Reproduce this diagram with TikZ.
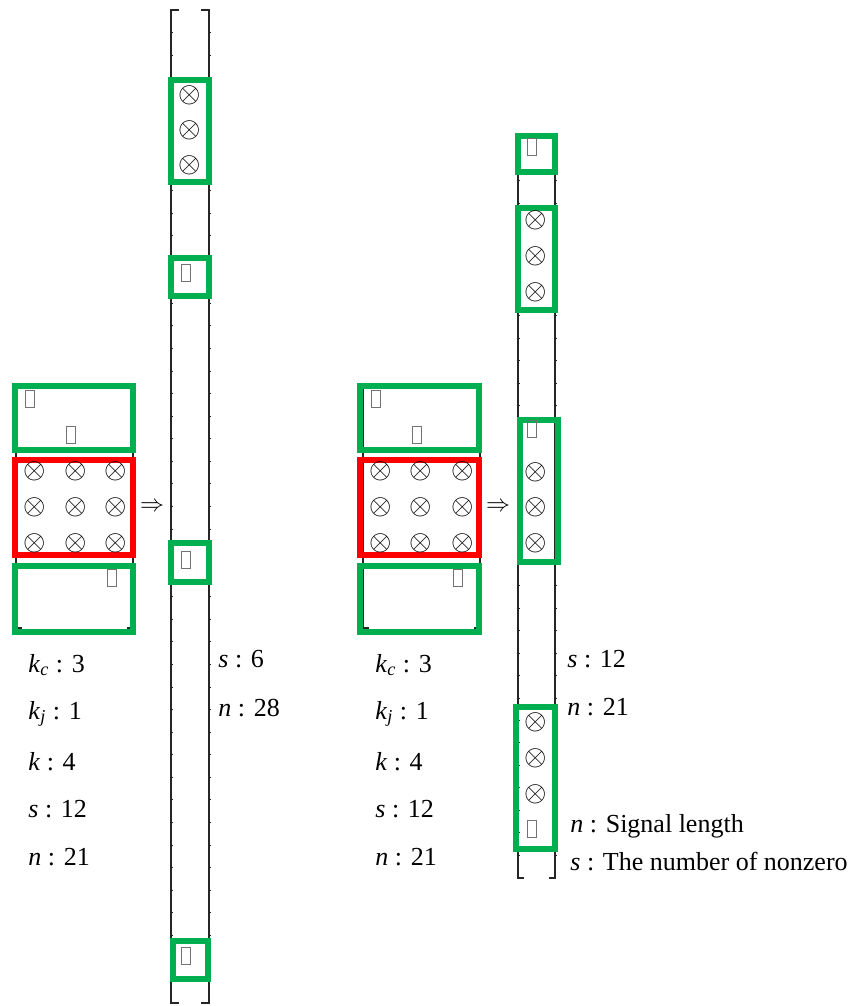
\documentclass[tikz,border=0pt]{standalone}
\usepackage{fontspec}
\setmainfont{Liberation Serif}
\usetikzlibrary{positioning}

\definecolor{boxgreen}{RGB}{0,176,80}
\definecolor{boxred}{RGB}{255,0,0}

\tikzset{
  greenbox/.style={draw=boxgreen,line width=3pt},
  redbox/.style={draw=boxred,line width=3pt},
  vecline/.style={draw=black!85,line width=0.6pt},
  tickmark/.style={draw=black!85,line width=0.5pt},
  tofu/.style={draw=black!55,line width=0.45pt,minimum width=4.5pt,minimum height=8.5pt,inner sep=0pt},
  otimes/.style={inner sep=0pt,font=\fontsize{14}{16}\selectfont},
  implies/.style={inner sep=0pt,font=\fontsize{13}{15}\selectfont},
  lbl/.style={anchor=base west,inner sep=0pt,font=\fontsize{13}{15}\selectfont},
}

\begin{document}
\begin{tikzpicture}[x=0.5pt,y=-0.5pt]
\useasboundingbox (0,0) rectangle (857,1006);

% long vector (n = 28)
\draw[vecline] (179,10) -- (171,10) -- (171,1003) -- (179,1003);
\draw[vecline] (201,10) -- (209,10) -- (209,1003) -- (201,1003);
\foreach \i in {1,...,43} {
  \pgfmathsetmacro{\ty}{10+\i*22.57}
  \draw[tickmark] (169.5,\ty) -- (172.5,\ty);
  \draw[tickmark] (207.5,\ty) -- (210.5,\ty);
}

% short vector (n = 21)
\draw[vecline] (524,136) -- (518,136) -- (518,878) -- (524,878);
\draw[vecline] (549,136) -- (555,136) -- (555,878) -- (549,878);
\foreach \i in {1,...,32} {
  \pgfmathsetmacro{\ty}{136+\i*22.48}
  \draw[tickmark] (516.5,\ty) -- (519.5,\ty);
  \draw[tickmark] (553.5,\ty) -- (556.5,\ty);
}

% matrix outlines
\draw[vecline] (22,388) -- (16,388) -- (16,628) -- (22,628);
\draw[vecline] (127,388) -- (133,388) -- (133,628) -- (127,628);
\draw[vecline] (369,388) -- (363,388) -- (363,628) -- (369,628);
\draw[vecline] (474,388) -- (480,388) -- (480,628) -- (474,628);

% left matrix
\draw[greenbox] (15,386) rectangle (133,450);
\draw[redbox] (15,460) rectangle (133,555);
\draw[greenbox] (15,566) rectangle (133,632);
\node[tofu] (ma1) at (30,399) {};
\node[tofu] (ma2) at (71,435) {};
\node[tofu] (ma3) at (112,578) {};
\foreach \c/\x in {1/35,2/76,3/116}
  \foreach \r/\y in {1/471,2/507,3/543}
    \node[otimes] (ma-\r-\c) at (\x,\y) {$\otimes$};
\node[implies] (arr1) at (152,507) {$\Rightarrow$};

% right matrix
\draw[greenbox] (360,386) rectangle (479,450);
\draw[redbox] (360,460) rectangle (479,555);
\draw[greenbox] (360,566) rectangle (479,632);
\node[tofu] (mb1) at (376,399) {};
\node[tofu] (mb2) at (417,435) {};
\node[tofu] (mb3) at (458,578) {};
\foreach \c/\x in {1/381,2/421,3/463}
  \foreach \r/\y in {1/471,2/507,3/543}
    \node[otimes] (mb-\r-\c) at (\x,\y) {$\otimes$};
\node[implies] (arr2) at (498,507) {$\Rightarrow$};

% blocks on the long vector
\draw[greenbox] (171,80) rectangle (209,182);
\draw[greenbox] (171,258) rectangle (209,296);
\draw[greenbox] (171,543) rectangle (209,582);
\draw[greenbox] (173,941) rectangle (208,979);
\foreach \y [count=\k] in {95,130,165}
  \node[otimes] (va-\k) at (190,\y) {$\otimes$};
\node[tofu] (va4) at (186,273) {};
\node[tofu] (va5) at (186,560) {};
\node[tofu] (va6) at (186,956) {};

% blocks on the short vector
\draw[greenbox] (518,136) rectangle (555,172);
\draw[greenbox] (518,208) rectangle (555,310);
\draw[greenbox] (520,420) rectangle (558,562);
\draw[greenbox] (516,707) rectangle (555,849);
\node[tofu] (vb1) at (532,147) {};
\node[tofu] (vb2) at (532,429) {};
\node[tofu] (vb3) at (532,829) {};
\foreach \y [count=\k] in {220,256,292,472,507,543,722,758,794}
  \node[otimes] (vb-\k) at (536,\y) {$\otimes$};

% labels
\node[lbl] (kc1) at (28,672) {\textit{k}\textsubscript{\textit{c}} : 3};
\node[lbl] (kj1) at (28,719) {\textit{k}\textsubscript{\textit{j}} : 1};
\node[lbl] (k1) at (28,770) {\textit{k} : 4};
\node[lbl] (s1) at (28,817) {\textit{s} : 12};
\node[lbl] (n1) at (28,865) {\textit{n} : 21};

\node[lbl] (s2) at (218,667) {\textit{s} : 6};
\node[lbl] (n2) at (218,716) {\textit{n} : 28};

\node[lbl] (kc3) at (375,672) {\textit{k}\textsubscript{\textit{c}} : 3};
\node[lbl] (kj3) at (375,719) {\textit{k}\textsubscript{\textit{j}} : 1};
\node[lbl] (k3) at (375,770) {\textit{k} : 4};
\node[lbl] (s3) at (375,817) {\textit{s} : 12};
\node[lbl] (n3) at (375,865) {\textit{n} : 21};

\node[lbl] (s4) at (567,667) {\textit{s} : 12};
\node[lbl] (n4) at (567,715) {\textit{n} : 21};
\node[lbl] (nlen) at (570,832) {\textit{n} : Signal length};
\node[lbl] (snz) at (570,870) {\textit{s} : The number of nonzero};

\end{tikzpicture}
\end{document}
